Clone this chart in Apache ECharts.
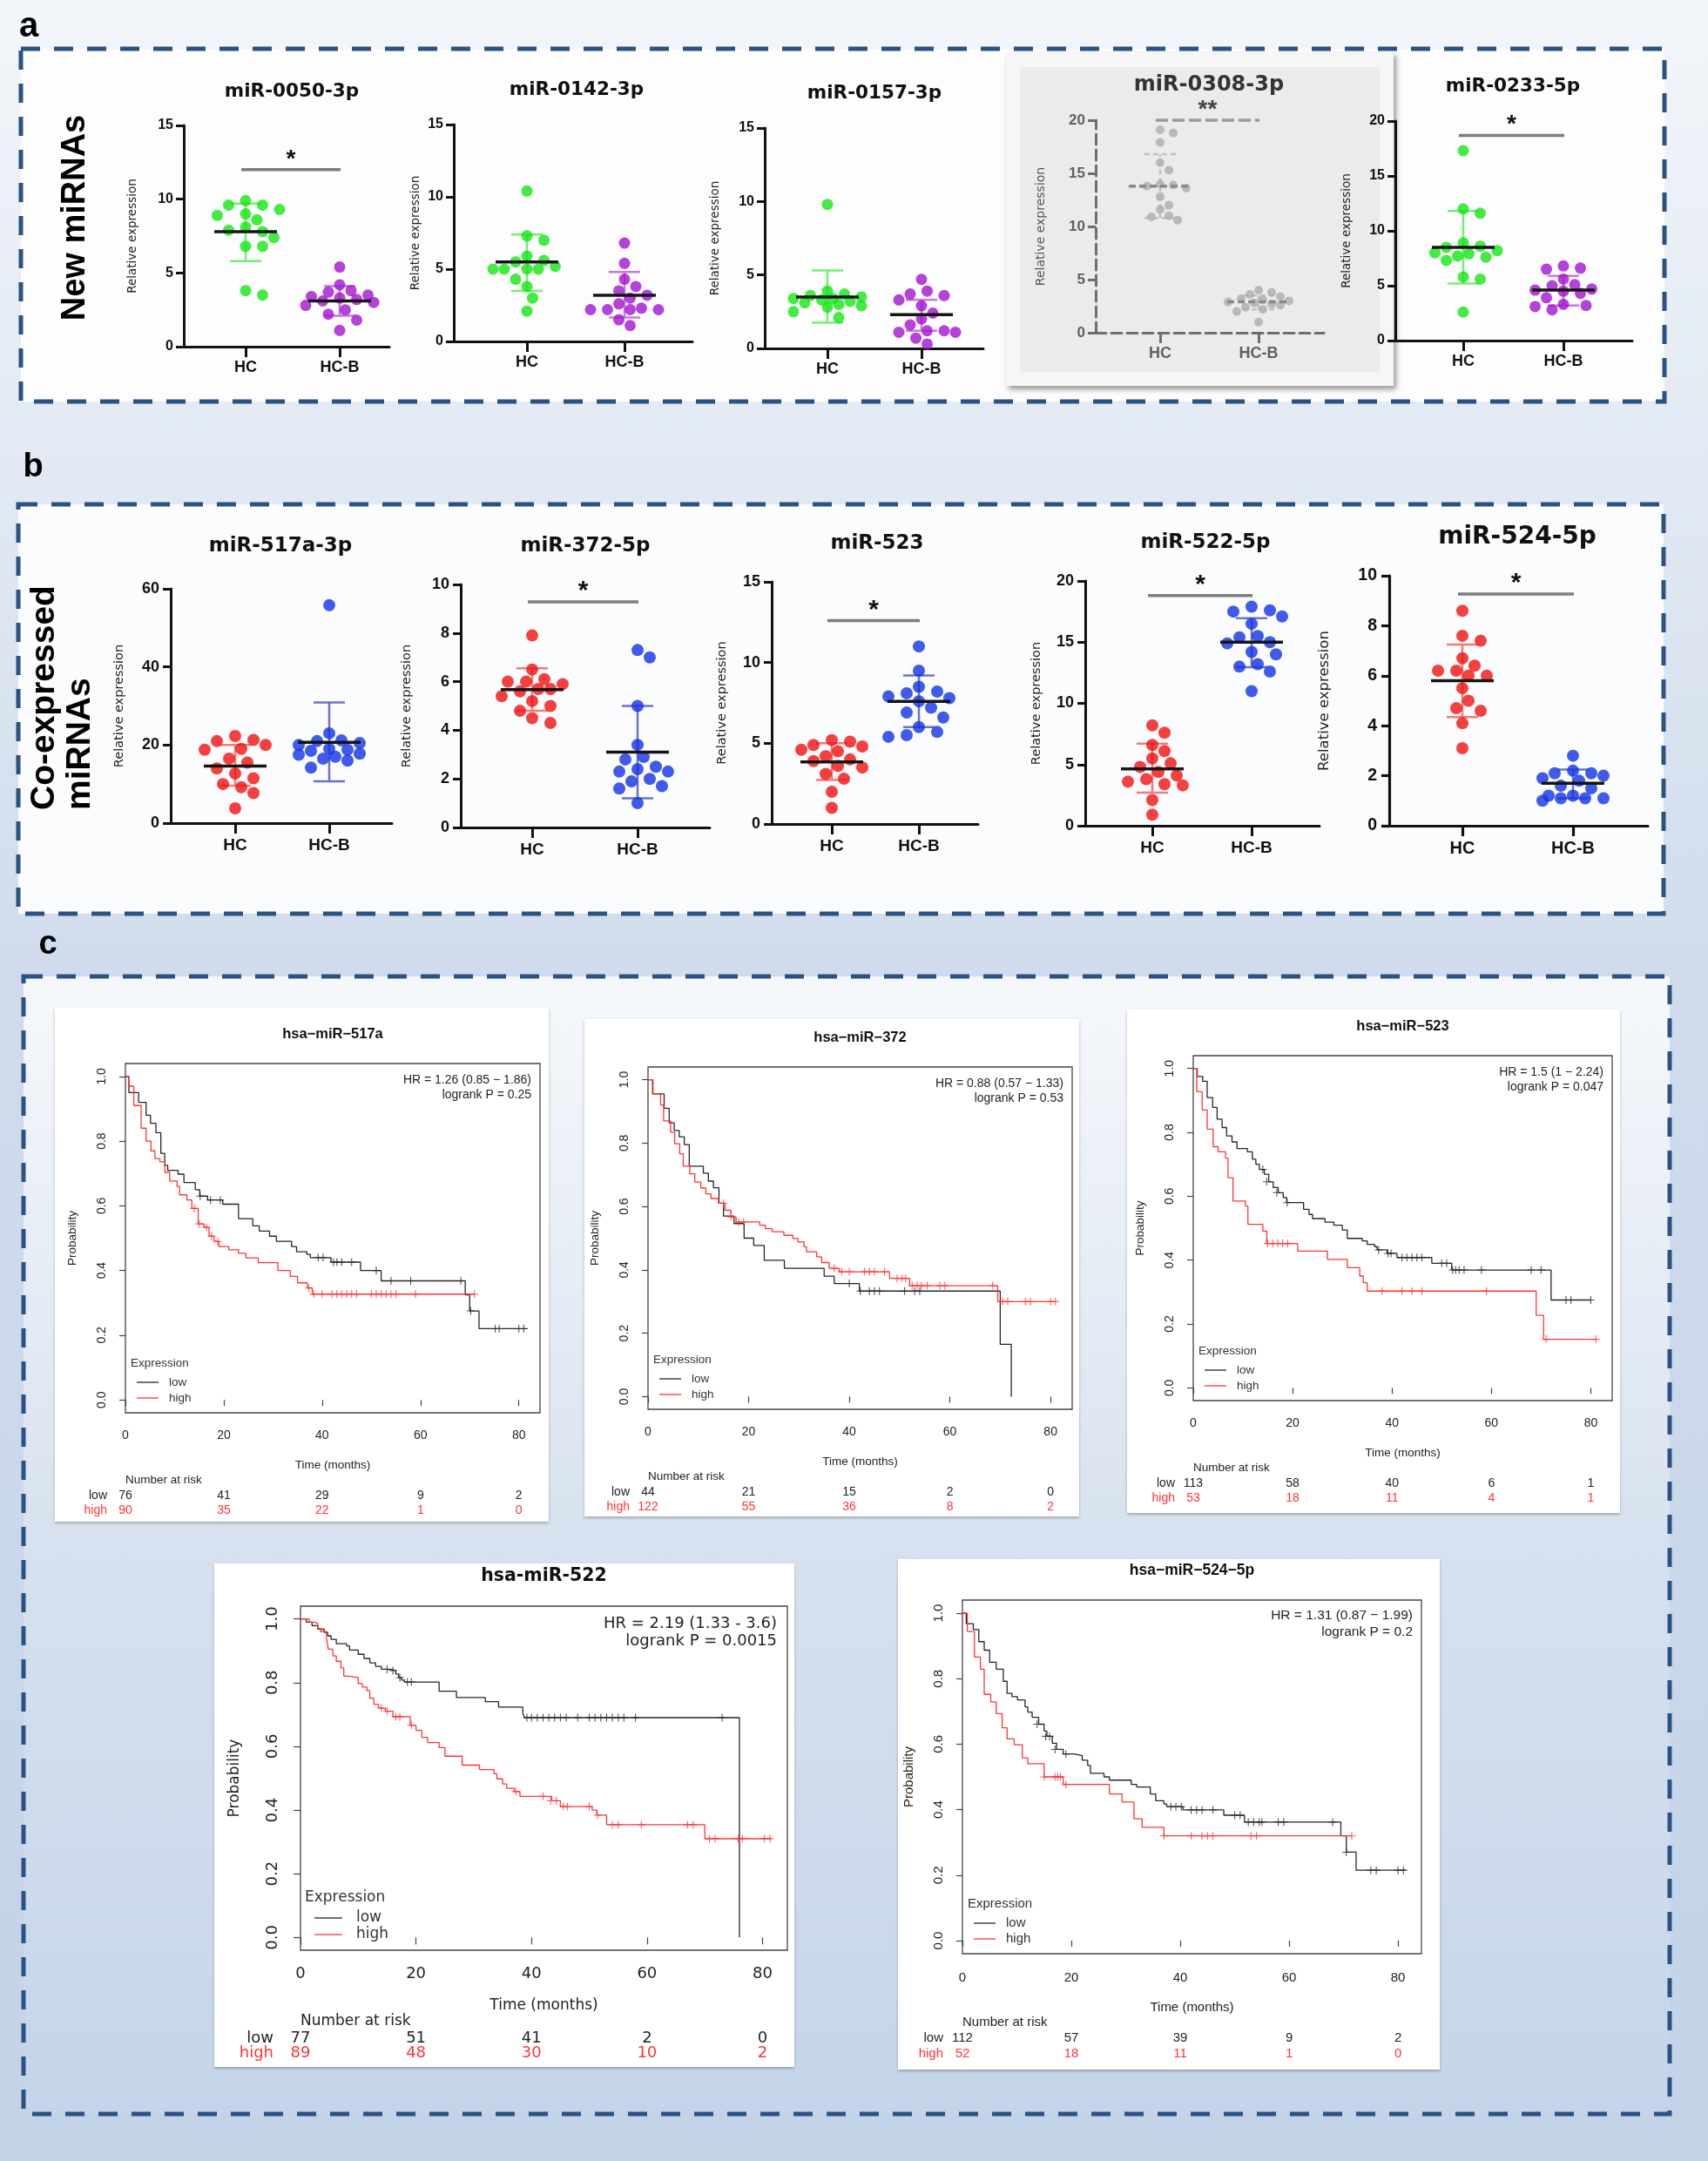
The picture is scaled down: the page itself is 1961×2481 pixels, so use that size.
<!DOCTYPE html>
<html><head><meta charset="utf-8">
<script src="https://cdn.jsdelivr.net/npm/echarts@6.0.0/dist/echarts.min.js"></script>
<style>html,body{margin:0;padding:0;background:#fff}#chart{width:1961px;height:2481px}</style>
</head><body><div id="chart"></div>
<script>
// ================= DATA =================
const GROUPS = ['HC', 'HC-B'];

// ---- panel a : new miRNAs ----
const mir0050_HC   = [9.9, 9.6, 9.6, 9.3, 9.0, 8.9, 8.6, 8.1, 7.9, 7.8, 7.4, 6.8, 6.8, 3.8, 3.5];
const mir0050_HCB  = [5.4, 4.2, 3.8, 3.7, 3.5, 3.4, 3.3, 3.2, 3.1, 3.0, 2.8, 2.5, 2.2, 1.8, 1.1];
const mir0050_mean = [7.8, 3.1];
const mir0050_sd   = [[5.8, 9.7], [2.1, 4.1]];
const mir0050_sig  = [12.0];

const mir0142_HC   = [10.4, 7.3, 7.0, 5.9, 5.6, 5.5, 5.2, 5.0, 5.0, 5.0, 5.0, 4.3, 3.8, 3.0, 2.1];
const mir0142_HCB  = [6.8, 5.4, 4.3, 3.8, 3.5, 3.2, 3.0, 2.6, 2.3, 2.2, 2.2, 2.2, 2.2, 1.5, 1.1];
const mir0142_mean = [5.5, 3.2];
const mir0142_sd   = [[3.5, 7.4], [1.65, 4.8]];
const mir0142_sig  = null;

const mir0157_HC   = [9.8, 3.9, 3.7, 3.6, 3.5, 3.4, 3.4, 3.3, 3.2, 3.1, 3.0, 2.9, 2.8, 2.5, 2.1];
const mir0157_HCB  = [4.7, 3.9, 3.7, 3.6, 3.3, 2.9, 2.4, 2.0, 1.6, 1.2, 1.2, 1.1, 1.1, 0.7, 0.3];
const mir0157_mean = [3.5, 2.3];
const mir0157_sd   = [[1.75, 5.3], [1.2, 3.3]];
const mir0157_sig  = null;

const mir0308_HC   = [19.1, 18.8, 17.9, 16.0, 15.3, 14.0, 13.9, 13.8, 13.6, 12.8, 12.0, 11.6, 11.0, 10.9, 10.6];
const mir0308_HCB  = [4.0, 3.8, 3.6, 3.4, 3.2, 3.1, 3.0, 2.9, 2.8, 2.7, 2.6, 2.4, 2.2, 2.0, 1.0];
const mir0308_mean = [13.8, 2.9];
const mir0308_sd   = [[10.8, 16.8], [2.2, 3.5]];
const mir0308_sig  = [20.0];

const mir0233_HC   = [17.3, 12.0, 11.6, 8.9, 8.6, 8.5, 8.2, 8.0, 7.9, 7.7, 7.6, 7.3, 5.8, 5.6, 2.6];
const mir0233_HCB  = [6.8, 6.6, 6.5, 5.6, 5.1, 5.0, 4.7, 4.6, 4.5, 4.3, 3.9, 3.3, 3.2, 3.1, 2.8];
const mir0233_mean = [8.5, 4.6];
const mir0233_sd   = [[5.2, 11.8], [3.2, 5.9]];
const mir0233_sig  = [18.7];

// ---- panel b : co-expressed miRNAs ----
const mir517a_HC   = [22.3, 21.3, 21.0, 20.0, 19.0, 18.8, 16.5, 15.5, 14.0, 12.7, 11.5, 10.0, 9.2, 7.7, 3.8];
const mir517a_HCB  = [55.8, 23.0, 21.2, 21.0, 20.5, 20.0, 19.0, 18.8, 18.5, 17.8, 17.5, 17.0, 16.5, 16.0, 14.2];
const mir517a_mean = [14.6, 20.7];
const mir517a_sd   = [[9.6, 20.0], [10.7, 30.9]];
const mir517a_sig  = null;

const mir372_HC    = [7.9, 6.5, 6.1, 6.0, 6.0, 5.9, 5.7, 5.7, 5.6, 5.4, 5.2, 5.0, 4.8, 4.5, 4.3];
const mir372_HCB   = [7.3, 7.0, 5.0, 3.4, 2.9, 2.8, 2.5, 2.4, 2.3, 2.3, 2.0, 1.9, 1.7, 1.6, 1.0];
const mir372_mean  = [5.67, 3.1];
const mir372_sd    = [[4.8, 6.55], [1.2, 5.0]];
const mir372_sig   = [9.28];

const mir523_HC    = [5.2, 5.1, 4.9, 4.8, 4.6, 4.5, 4.2, 4.0, 3.9, 3.6, 3.5, 3.1, 2.8, 2.0, 1.0];
const mir523_HCB   = [11.0, 9.5, 8.5, 8.2, 8.1, 7.9, 7.8, 7.6, 7.2, 6.9, 6.6, 6.0, 5.7, 5.5, 5.4];
const mir523_mean  = [3.85, 7.6];
const mir523_sd    = [[2.73, 5.0], [6.0, 9.2]];
const mir523_sig   = [12.6];

const mir522_HC    = [8.2, 7.6, 6.6, 6.1, 5.5, 5.1, 4.8, 4.4, 4.1, 3.8, 3.6, 3.4, 3.3, 2.1, 0.9];
const mir522_HCB   = [17.9, 17.6, 17.5, 17.1, 16.5, 15.5, 15.4, 15.0, 14.9, 14.2, 14.0, 13.2, 13.0, 12.6, 11.0];
const mir522_mean  = [4.65, 15.0];
const mir522_sd    = [[2.7, 6.7], [12.95, 16.95]];
const mir522_sig   = [18.8];

const mir524_HC    = [8.6, 7.6, 7.4, 6.7, 6.4, 6.2, 6.2, 6.0, 6.0, 5.5, 5.0, 4.7, 4.6, 4.1, 3.1];
const mir524_HCB   = [2.8, 2.2, 2.1, 2.1, 2.0, 1.9, 1.8, 1.6, 1.5, 1.2, 1.2, 1.1, 1.1, 1.1, 1.0];
const mir524_mean  = [5.8, 1.7];
const mir524_sd    = [[4.35, 7.25], [1.1, 2.25]];
const mir524_sig   = [9.27];

// ---- panel c : Kaplan-Meier curves [months, survival probability] ----
const KM_X_TICKS = [0, 20, 40, 60, 80];
const KM_Y_TICKS = [0, 0.2, 0.4, 0.6, 0.8, 1.0];
const RISK_TIMES = [0, 20, 40, 60, 80];

const km517_low = [[0,1],[0.7,0.95],[2.7,0.92],[4.2,0.88],[5.1,0.855],[6.2,0.826],[7.2,0.762],[8,0.725],[8.6,0.71],[10.7,0.698],[11.9,0.672],[14.2,0.65],[15.1,0.63],[16.7,0.618],[19.8,0.605],[23,0.56],[25.9,0.538],[27.2,0.522],[29.3,0.506],[30.7,0.49],[33.8,0.474],[34.8,0.458],[36.9,0.45],[37.6,0.44],[41.8,0.426],[47.8,0.40],[52,0.368],[69.1,0.325],[70,0.275],[71.9,0.22],[81.7,0.22]];
const km517_lowCens = [[15.2,0.63],[17.3,0.618],[19.3,0.618],[39.2,0.44],[40.2,0.44],[42.3,0.426],[43,0.426],[44,0.426],[46,0.426],[51,0.40],[54,0.368],[58,0.368],[68.2,0.368],[70.2,0.275],[75.2,0.22],[76,0.22],[80,0.22],[81,0.22]];
const km517_high = [[0,1],[0.7,0.97],[1.7,0.91],[3.2,0.84],[4.2,0.80],[5.2,0.77],[6,0.746],[7,0.736],[8,0.704],[9,0.677],[10.5,0.66],[11,0.634],[12.5,0.618],[13.5,0.592],[14.8,0.544],[16,0.533],[17,0.506],[18,0.49],[19,0.474],[21,0.464],[23,0.453],[24.5,0.439],[27,0.424],[31,0.40],[33.5,0.382],[35,0.362],[37,0.346],[38,0.327],[71,0.327]];
const km517_highCens = [[14,0.592],[15,0.544],[16.5,0.533],[17.5,0.506],[18.8,0.49],[37.3,0.346],[38.3,0.327],[40,0.327],[42,0.327],[43,0.327],[44,0.327],[45,0.327],[46,0.327],[47,0.327],[50,0.327],[51,0.327],[52,0.327],[53,0.327],[54,0.327],[55,0.327],[59,0.327],[71,0.327]];
const km517_riskLow = [76, 41, 29, 9, 2];
const km517_riskHigh = [90, 35, 22, 1, 0];
const km517_hr = ['HR = 1.26 (0.85 \u2212 1.86)', 'logrank P = 0.25'];

const km372_low = [[0,1],[0.9,0.955],[3.2,0.91],[4.2,0.864],[5.2,0.84],[6.2,0.82],[7.2,0.795],[8.2,0.727],[11,0.705],[12,0.68],[13,0.659],[14.1,0.61],[15,0.57],[17.1,0.546],[19.1,0.5],[21,0.477],[23.1,0.43],[27.1,0.405],[35,0.38],[37,0.357],[42,0.333],[70,0.165],[72.2,0]];
const km372_lowCens = [[40,0.357],[42.2,0.333],[44,0.333],[45,0.333],[46,0.333],[51,0.333],[53,0.333],[54,0.333]];
const km372_high = [[0,1],[1,0.955],[2.5,0.92],[3.1,0.87],[4.5,0.834],[5.3,0.798],[6.3,0.766],[7,0.727],[8.3,0.703],[9.3,0.677],[10.5,0.658],[11.5,0.64],[12.5,0.625],[14,0.61],[15.3,0.588],[16.5,0.567],[17.5,0.551],[22.2,0.541],[23.3,0.53],[24.7,0.52],[27,0.509],[28.8,0.499],[29.8,0.488],[31,0.473],[31.5,0.457],[33.5,0.441],[34.5,0.423],[36,0.405],[38,0.394],[48,0.373],[52,0.35],[69.5,0.30],[81,0.30]];
const km372_highCens = [[15,0.61],[16.5,0.567],[18,0.551],[19,0.551],[37,0.405],[38.5,0.394],[40,0.394],[43,0.394],[44,0.394],[45,0.394],[47,0.394],[49.5,0.373],[50.5,0.373],[51.2,0.373],[52.5,0.35],[53.5,0.35],[54.3,0.35],[55.5,0.35],[58,0.35],[59,0.35],[68.5,0.35],[70.5,0.30],[71.5,0.30],[75,0.30],[76,0.30],[80,0.30],[81,0.30]];
const km372_riskLow = [44, 21, 15, 2, 0];
const km372_riskHigh = [122, 55, 36, 8, 2];
const km372_hr = ['HR = 0.88 (0.57 \u2212 1.33)', 'logrank P = 0.53'];

const km523_low = [[0,1],[0.8,0.975],[1.9,0.96],[2.8,0.909],[3.9,0.878],[4.8,0.841],[5.8,0.815],[6.7,0.789],[7.8,0.77],[8.8,0.749],[10.9,0.739],[11.9,0.716],[12.6,0.70],[13.3,0.684],[14.3,0.669],[15.2,0.645],[16.1,0.627],[17.1,0.611],[18.1,0.596],[18.8,0.58],[22.2,0.559],[23.3,0.543],[24,0.53],[26.5,0.519],[28.3,0.509],[30,0.494],[31,0.468],[34,0.46],[35,0.449],[36.5,0.442],[37,0.432],[39,0.421],[41,0.408],[48,0.39],[52,0.369],[72,0.275],[80,0.275]];
const km523_lowCens = [[14,0.684],[14.8,0.645],[16.8,0.611],[18.9,0.58],[37.3,0.432],[39.2,0.421],[39.8,0.421],[42,0.408],[43,0.408],[44,0.408],[45,0.408],[46,0.408],[50,0.39],[51,0.39],[52.2,0.369],[52.8,0.369],[53.5,0.369],[54.5,0.369],[58,0.369],[68,0.369],[70,0.369],[75,0.275],[76,0.275],[80,0.275]];
const km523_high = [[0,1],[0.7,0.927],[1.8,0.87],[2.8,0.81],[4,0.755],[5,0.739],[6.5,0.719],[7,0.658],[8,0.585],[10.5,0.569],[11,0.512],[14,0.491],[14.8,0.452],[21,0.428],[27,0.402],[31,0.376],[33.5,0.35],[34.2,0.329],[35,0.303],[69,0.227],[70.5,0.152],[81,0.152]];
const km523_highCens = [[15,0.452],[16,0.452],[17,0.452],[18,0.452],[19,0.452],[38,0.303],[42,0.303],[44,0.303],[46,0.303],[59,0.303],[71,0.152],[81,0.152]];
const km523_riskLow = [113, 58, 40, 6, 1];
const km523_riskHigh = [53, 18, 11, 4, 1];
const km523_hr = ['HR = 1.5 (1 \u2212 2.24)', 'logrank P = 0.047'];

const km522_low = [[0,1],[1,0.99],[2,0.979],[3,0.968],[4.1,0.958],[4.7,0.947],[5.3,0.936],[6.2,0.922],[8,0.915],[8.5,0.902],[10,0.889],[11,0.876],[12,0.862],[13,0.851],[14,0.842],[15.5,0.838],[16.5,0.827],[17,0.816],[17.5,0.808],[18,0.802],[24,0.773],[27,0.753],[32,0.74],[34.3,0.723],[38.5,0.704],[38.8,0.69],[76,0]];
const km522_lowCens = [[15,0.842],[16,0.838],[17.2,0.816],[18.5,0.802],[19.2,0.802],[39.2,0.69],[40,0.69],[41,0.69],[42,0.69],[43,0.69],[44,0.69],[45,0.69],[46,0.69],[48,0.69],[50,0.69],[51,0.69],[52,0.69],[53,0.69],[54,0.69],[55,0.69],[56,0.69],[58,0.69],[73,0.69]];
const km522_high = [[0,1],[1.5,0.99],[2.5,0.985],[3,0.97],[3.5,0.96],[4.5,0.94],[4.8,0.905],[5.6,0.884],[6.2,0.867],[7,0.846],[7.5,0.82],[8.3,0.816],[10,0.797],[10.7,0.786],[11.5,0.775],[12,0.751],[12.7,0.732],[13.5,0.72],[14.7,0.71],[16,0.693],[19,0.666],[20,0.65],[21,0.628],[22,0.612],[24,0.596],[25,0.569],[28,0.541],[31,0.527],[33.5,0.514],[34,0.498],[35,0.482],[35.7,0.468],[37,0.458],[38,0.443],[43.5,0.429],[45,0.411],[50.5,0.40],[51.3,0.384],[53,0.354],[70,0.31],[81.5,0.31]];
const km522_highCens = [[14,0.72],[15,0.71],[16.5,0.693],[17.2,0.693],[19.2,0.666],[37.3,0.458],[42,0.443],[43.3,0.429],[44.3,0.429],[45.5,0.411],[46.2,0.411],[50,0.411],[51.4,0.384],[54,0.354],[55,0.354],[59,0.354],[67,0.354],[68,0.354],[70.8,0.31],[71.8,0.31],[75.8,0.31],[76.5,0.31],[80.3,0.31],[81.3,0.31]];
const km522_riskLow = [77, 51, 41, 2, 0];
const km522_riskHigh = [89, 48, 30, 10, 2];
const km522_hr = ['HR = 2.19 (1.33 - 3.6)', 'logrank P = 0.0015'];

const km524_low = [[0,1],[0.7,0.968],[2,0.95],[3,0.913],[4,0.887],[5,0.85],[6.2,0.829],[7.5,0.792],[8.2,0.755],[9.1,0.745],[10.1,0.735],[11.5,0.714],[12,0.698],[12.8,0.682],[14,0.661],[15,0.64],[15.5,0.624],[16.5,0.603],[17.3,0.584],[18.5,0.57],[20.5,0.565],[22,0.551],[23,0.535],[23.5,0.511],[26,0.50],[27,0.49],[31,0.477],[32,0.469],[34.5,0.448],[35.5,0.427],[37,0.417],[37.5,0.409],[40.5,0.399],[48,0.383],[51.8,0.362],[69.5,0.32],[70.5,0.27],[72.3,0.215],[81.4,0.215]];
const km524_lowCens = [[13.7,0.661],[15.3,0.624],[16,0.624],[17,0.584],[19,0.57],[38.3,0.409],[39.2,0.409],[40.2,0.409],[42,0.399],[43,0.399],[44,0.399],[46,0.399],[50,0.383],[51,0.383],[52.5,0.362],[53.5,0.362],[54.5,0.362],[55,0.362],[58,0.362],[59,0.362],[68,0.362],[70.5,0.27],[75,0.215],[76,0.215],[80,0.215],[81,0.215]];
const km524_high = [[0,1],[0.9,0.944],[2.2,0.866],[3.3,0.829],[4,0.752],[5.2,0.729],[6.2,0.693],[7.3,0.65],[8.2,0.616],[9.5,0.598],[11,0.558],[12,0.54],[15,0.50],[18.5,0.477],[27,0.448],[29.3,0.423],[31.5,0.372],[33,0.346],[37,0.32],[71.5,0.32]];
const km524_highCens = [[15,0.50],[17,0.50],[17.5,0.50],[18,0.50],[19,0.477],[37,0.32],[42,0.32],[44,0.32],[45,0.32],[46,0.32],[53,0.32],[54,0.32],[71.5,0.32]];
const km524_riskLow = [112, 57, 39, 9, 2];
const km524_riskHigh = [52, 18, 11, 1, 0];
const km524_hr = ['HR = 1.31 (0.87 \u2212 1.99)', 'logrank P = 0.2'];

// ================= STYLES / LAYOUT =================
const PAL = {
  green:  {dot: '#14e614', bar: '#74ee74'},
  purple: {dot: '#a114cf', bar: '#c57ad8'},
  red:    {dot: '#f41010', bar: '#f27a7a'},
  blue:   {dot: '#1232e6', bar: '#6a74c6'},
  grey:   {dot: '#adadad', bar: '#c2c2c2'}
};
const DJ = '"DejaVu Sans", sans-serif';
const LS = '"Liberation Sans", Arial, sans-serif';
const STY = {
  a:  {title: 21.5, tick: 16, xl: 18, yn: 13.5, dot: 13, axis: '#111', lab: '#111', tcol: '#111', lw: 3, dash: false, star: 28, xm: 15, ym: 12},
  g:  {title: 24,   tick: 17, xl: 18, yn: 14,   dot: 10, axis: '#6e6e6e', lab: '#606060', tcol: '#333', lw: 3, dash: true, star: 28, xm: 15, ym: 12},
  b:  {title: 23,   tick: 18, xl: 19, yn: 14.5, dot: 14, axis: '#111', lab: '#111', tcol: '#111', lw: 3, dash: false, star: 30, xm: 16, ym: 13},
  b5: {title: 28,   tick: 19.5, xl: 20, yn: 16.5, dot: 14, axis: '#111', lab: '#111', tcol: '#111', lw: 3.2, dash: false, star: 30, xm: 16, ym: 14}
};

const scatterPlots = [
  {title: 'miR-0050-3p', vals: [mir0050_HC, mir0050_HCB], mean: mir0050_mean, sd: mir0050_sd, sig: mir0050_sig, star: '*', yMax: 15, yStep: 5, pal: ['green', 'purple'], sty: 'a',
   L: {ax: 211, right: 447, top: 144, zero: 398, hc: 282, hcb: 390, tx: 335, ty: 105, nx: 152}},
  {title: 'miR-0142-3p', vals: [mir0142_HC, mir0142_HCB], mean: mir0142_mean, sd: mir0142_sd, sig: mir0142_sig, star: '', yMax: 15, yStep: 5, pal: ['green', 'purple'], sty: 'a',
   L: {ax: 521, right: 795, top: 143, zero: 392, hc: 605, hcb: 717, tx: 662, ty: 103, nx: 477}},
  {title: 'miR-0157-3p', vals: [mir0157_HC, mir0157_HCB], mean: mir0157_mean, sd: mir0157_sd, sig: mir0157_sig, star: '', yMax: 15, yStep: 5, pal: ['green', 'purple'], sty: 'a',
   L: {ax: 878, right: 1129, top: 147, zero: 400, hc: 950, hcb: 1058, tx: 1004, ty: 107, nx: 821}},
  {title: 'miR-0308-3p', vals: [mir0308_HC, mir0308_HCB], mean: mir0308_mean, sd: mir0308_sd, sig: mir0308_sig, star: '**', yMax: 20, yStep: 5, pal: ['grey', 'grey'], sty: 'g',
   L: {ax: 1258, right: 1520, top: 138, zero: 382, hc: 1332, hcb: 1445, tx: 1388, ty: 98, nx: 1195}},
  {title: 'miR-0233-5p', vals: [mir0233_HC, mir0233_HCB], mean: mir0233_mean, sd: mir0233_sd, sig: mir0233_sig, star: '*', yMax: 20, yStep: 5, pal: ['green', 'purple'], sty: 'a',
   L: {ax: 1602, right: 1874, top: 139, zero: 391, hc: 1680, hcb: 1795, tx: 1737, ty: 99, nx: 1546}},
  {title: 'miR-517a-3p', vals: [mir517a_HC, mir517a_HCB], mean: mir517a_mean, sd: mir517a_sd, sig: mir517a_sig, star: '', yMax: 60, yStep: 20, pal: ['red', 'blue'], sty: 'b',
   L: {ax: 196, right: 450, top: 676, zero: 945, hc: 270, hcb: 378, tx: 322, ty: 627, nx: 137}},
  {title: 'miR-372-5p', vals: [mir372_HC, mir372_HCB], mean: mir372_mean, sd: mir372_sd, sig: mir372_sig, star: '*', yMax: 10, yStep: 2, pal: ['red', 'blue'], sty: 'b',
   L: {ax: 529, right: 815, top: 671, zero: 950, hc: 611, hcb: 732, tx: 672, ty: 627, nx: 467}},
  {title: 'miR-523', vals: [mir523_HC, mir523_HCB], mean: mir523_mean, sd: mir523_sd, sig: mir523_sig, star: '*', yMax: 15, yStep: 5, pal: ['red', 'blue'], sty: 'b',
   L: {ax: 886, right: 1123, top: 668, zero: 946, hc: 955, hcb: 1055, tx: 1007, ty: 624, nx: 829}},
  {title: 'miR-522-5p', vals: [mir522_HC, mir522_HCB], mean: mir522_mean, sd: mir522_sd, sig: mir522_sig, star: '*', yMax: 20, yStep: 5, pal: ['red', 'blue'], sty: 'b',
   L: {ax: 1246, right: 1515, top: 667, zero: 948, hc: 1323, hcb: 1437, tx: 1384, ty: 623, nx: 1190}},
  {title: 'miR-524-5p', vals: [mir524_HC, mir524_HCB], mean: mir524_mean, sd: mir524_sd, sig: mir524_sig, star: '*', yMax: 10, yStep: 2, pal: ['red', 'blue'], sty: 'b5',
   L: {ax: 1595, right: 1892, top: 661, zero: 948, hc: 1679, hcb: 1806, tx: 1742, ty: 617, nx: 1521}}
];

const O_STD = {hrDx: 10, hr1: 19, hr2: 36, xlabC: 26, time: 60, nar: 77, row1: 95, row2: 112, rowDx: 21, ylab: 27, prob: 61, expr: 57, leg1: 35, leg2: 17, legX0: 13, legX1: 38, legTx: 50, exprX: 6, tick: 7};
const O_522 = {hrDx: 12, hr1: 20, hr2: 40, xlabC: 27, time: 64, nar: 82, row1: 101, row2: 118, rowDx: 31, ylab: 32, prob: 75, expr: 60, leg1: 37, leg2: 18, legX0: 16, legX1: 48, legTx: 64, exprX: 5, tick: 8};
const O_524 = Object.assign({}, O_STD, {hr1: 18, hr2: 37, xlabC: 28, time: 62, nar: 79, row1: 97, row2: 115, rowDx: 22});
const F_STD = {ff: LS, title: 16.5, tick: 14, text: 13.5, hr: 14, risk: 14};
const F_522 = {ff: DJ, title: 20.5, tick: 18, text: 17, hr: 18, risk: 18};
const F_524 = {ff: LS, title: 17.5, tick: 15, text: 15, hr: 15.5, risk: 15};

const kmPlots = [
  {title: 'hsa\u2212miR\u2212517a', low: km517_low, lowCens: km517_lowCens, high: km517_high, highCens: km517_highCens, rl: km517_riskLow, rh: km517_riskHigh, hr: km517_hr,
   box: [63, 1157, 567, 590], grid: [144, 1221, 476, 401], O: O_STD, F: F_STD},
  {title: 'hsa\u2212miR\u2212372', low: km372_low, lowCens: km372_lowCens, high: km372_high, highCens: km372_highCens, rl: km372_riskLow, rh: km372_riskHigh, hr: km372_hr,
   box: [671, 1170, 568, 571], grid: [744, 1225, 487, 393], O: O_STD, F: F_STD},
  {title: 'hsa\u2212miR\u2212523', low: km523_low, lowCens: km523_lowCens, high: km523_high, highCens: km523_highCens, rl: km523_riskLow, rh: km523_riskHigh, hr: km523_hr,
   box: [1294, 1159, 566, 578], grid: [1370, 1212, 481, 396], O: O_STD, F: F_STD},
  {title: 'hsa-miR-522', low: km522_low, lowCens: km522_lowCens, high: km522_high, highCens: km522_highCens, rl: km522_riskLow, rh: km522_riskHigh, hr: km522_hr,
   box: [246, 1795, 666, 578], grid: [345, 1844, 559, 395], O: O_522, F: F_522},
  {title: 'hsa\u2212miR\u2212524\u22125p', low: km524_low, lowCens: km524_lowCens, high: km524_high, highCens: km524_highCens, rl: km524_riskLow, rh: km524_riskHigh, hr: km524_hr,
   box: [1031, 1790, 622, 586], grid: [1105, 1837, 527, 406], O: O_524, F: F_524}
];

// ================= BUILD =================
const LG = echarts.graphic.LinearGradient;
function txt(text, x, y, font, fill, align, valign, rot, z) {
  return {type: 'text', x: x, y: y, rotation: rot || 0, z: z || 50, silent: true,
    style: {text: text, font: font, fill: fill, align: align || 'center', verticalAlign: valign || 'middle',
            textAlign: align || 'center', textVerticalAlign: valign || 'middle'}};
}
// beeswarm-style horizontal spreading of dots (layout only), capped width
function swarm(vals, pxPerY, d) {
  const order = vals.map((v, i) => i).sort((a, b) => vals[b] - vals[a]);
  const placed = [], off = new Array(vals.length).fill(0);
  const minD = d * 1.1, step = d * 0.5, cap = 40;
  const cands = [0];
  for (let k = 1; k * step <= cap; k++) { cands.push(k * step, -k * step); }
  for (const i of order) {
    const py = vals[i] * pxPerY;
    let best = 0, bestD = -1, chosen = null;
    for (const c of cands) {
      const md = placed.reduce((m, p) => Math.min(m, Math.hypot(p.x - c, p.y - py)), Infinity);
      if (md >= minD) { chosen = c; break; }
      if (md > bestD) { bestD = md; best = c; }
    }
    if (chosen === null) chosen = best;
    placed.push({x: chosen, y: py}); off[i] = chosen;
  }
  return off;
}

const grids = [], xAxes = [], yAxes = [], series = [];
const bg = [];
// page background
bg.push({type: 'rect', z: -100, silent: true, shape: {x: 0, y: 0, width: 1961, height: 2481},
  style: {fill: new LG(0, 0, 0, 1, [{offset: 0, color: '#f3f6fa'}, {offset: 0.2, color: '#e3eaf3'}, {offset: 0.45, color: '#d0dcec'}, {offset: 1, color: '#c2d3e8'}])}});
const DASH = {stroke: '#2b5283', lineWidth: 5, lineDash: [22, 16]};
bg.push({type: 'rect', z: -90, silent: true, shape: {x: 24, y: 56, width: 1887, height: 405}, style: Object.assign({fill: '#fdfdfe'}, DASH)});
bg.push({type: 'rect', z: -90, silent: true, shape: {x: 21, y: 579, width: 1889, height: 470}, style: Object.assign({fill: '#fbfcfe'}, DASH)});
bg.push({type: 'rect', z: -90, silent: true, shape: {x: 27, y: 1121, width: 1890, height: 1306},
  style: Object.assign({fill: new LG(0, 0, 0, 1, [{offset: 0, color: 'rgba(255,255,255,0.8)'}, {offset: 0.5, color: 'rgba(255,255,255,0.25)'}, {offset: 1, color: 'rgba(255,255,255,0.03)'}])}, DASH)});
// grey framed panel for miR-0308-3p
bg.push({type: 'rect', z: -80, silent: true, shape: {x: 1155, y: 60, width: 445, height: 383},
  style: {fill: '#f6f6f6', shadowBlur: 6, shadowOffsetX: 3, shadowOffsetY: 4, shadowColor: 'rgba(0,0,0,0.4)'}});
bg.push({type: 'rect', z: -79, silent: true, shape: {x: 1171, y: 77, width: 413, height: 350}, style: {fill: '#ebebeb'}});
// KM white boxes
kmPlots.forEach(k => bg.push({type: 'rect', z: -70, silent: true, shape: {x: k.box[0], y: k.box[1], width: k.box[2], height: k.box[3]},
  style: {fill: '#ffffff', shadowBlur: 3, shadowOffsetY: 2, shadowColor: 'rgba(0,0,0,0.25)'}}));

// panel labels and side titles
bg.push(txt('a', 33, 31, 'bold 40px ' + LS, '#000'));
bg.push(txt('b', 38, 537, 'bold 38px ' + LS, '#000'));
bg.push(txt('c', 55, 1085, 'bold 38px ' + LS, '#000'));
bg.push(txt('New miRNAs', 87, 250, 'bold 38px ' + LS, '#000', 'center', 'middle', Math.PI / 2));
bg.push(txt('Co-expressed', 51, 930, 'bold 39px ' + LS, '#000', 'left', 'middle', Math.PI / 2));
bg.push(txt('miRNAs', 92, 930, 'bold 39px ' + LS, '#000', 'left', 'middle', Math.PI / 2));

// -------- scatter (dot) plots --------
scatterPlots.forEach((p, i) => {
  const S = STY[p.sty], L = p.L, u = L.hcb - L.hc;
  const lineType = S.dash ? 'dashed' : 'solid';
  grids.push({left: L.ax, top: L.top, width: L.right - L.ax, height: L.zero - L.top});
  xAxes.push({gridIndex: i, type: 'value', min: -(L.hc - L.ax) / u, max: 1 + (L.right - L.hcb) / u,
    axisLine: {show: true, onZero: false, lineStyle: {color: S.axis, width: S.lw, type: lineType}},
    axisTick: {show: true, customValues: [0, 1], length: 12, lineStyle: {color: S.axis, width: S.lw}},
    axisLabel: {show: true, customValues: [0, 1], formatter: v => GROUPS[Math.round(v)], fontSize: S.xl, fontWeight: 'bold', fontFamily: LS, color: S.lab, margin: S.xm},
    splitLine: {show: false}});
  yAxes.push({gridIndex: i, type: 'value', min: 0, max: p.yMax, interval: p.yStep,
    axisLine: {show: true, onZero: false, lineStyle: {color: S.axis, width: S.lw, type: lineType}},
    axisTick: {show: true, length: 9, lineStyle: {color: S.axis, width: S.lw}},
    axisLabel: {fontSize: S.tick, fontWeight: 'bold', fontFamily: LS, color: S.lab, margin: S.ym},
    splitLine: {show: false}});
  const pxY = (L.zero - L.top) / p.yMax;
  const data = [];
  p.vals.forEach((arr, g) => {
    const off = swarm(arr, pxY, S.dot);
    arr.forEach((v, k) => data.push({value: [g + off[k] / u, v], itemStyle: {color: PAL[p.pal[g]].dot}}));
  });
  const stats = [0, 1].map(g => [g, p.mean[g], p.sd[g][0], p.sd[g][1]]);
  // SD error bars (behind dots)
  series.push({type: 'custom', xAxisIndex: i, yAxisIndex: i, z: 2, silent: true, data: stats,
    renderItem: (params, api) => {
      const g = api.value(0), lo = api.coord([g, api.value(2)]), hi = api.coord([g, api.value(3)]);
      const st = {stroke: PAL[p.pal[g]].bar, lineWidth: 2.5, lineDash: S.dash ? [6, 4] : null};
      return {type: 'group', children: [
        {type: 'line', shape: {x1: lo[0], y1: lo[1], x2: hi[0], y2: hi[1]}, style: st},
        {type: 'line', shape: {x1: lo[0] - 18, y1: lo[1], x2: lo[0] + 18, y2: lo[1]}, style: st},
        {type: 'line', shape: {x1: hi[0] - 18, y1: hi[1], x2: hi[0] + 18, y2: hi[1]}, style: st}]};
    }});
  series.push({type: 'scatter', xAxisIndex: i, yAxisIndex: i, z: 3, silent: true, symbolSize: S.dot, data: data});
  // mean line (on top)
  series.push({type: 'custom', xAxisIndex: i, yAxisIndex: i, z: 4, silent: true, data: stats,
    renderItem: (params, api) => {
      const g = api.value(0), m = api.coord([g, api.value(1)]);
      return {type: 'line', shape: {x1: m[0] - 36, y1: m[1], x2: m[0] + 36, y2: m[1]},
        style: {stroke: S.dash ? '#8a8a8a' : '#151515', lineWidth: 3.5, lineDash: S.dash ? [8, 4] : null}};
    }});
  if (p.sig) {
    series.push({type: 'custom', xAxisIndex: i, yAxisIndex: i, z: 4, silent: true, data: [[0, p.sig[0]]],
      renderItem: (params, api) => {
        const a = api.coord([0, api.value(1)]), b = api.coord([1, api.value(1)]);
        return {type: 'group', children: [
          {type: 'line', shape: {x1: a[0] - 5, y1: a[1], x2: b[0] + 1, y2: b[1]},
           style: {stroke: S.dash ? '#9a9a9a' : '#7d7d7d', lineWidth: 3.5, lineDash: S.dash ? [14, 5] : null}},
          {type: 'text', x: (a[0] + b[0]) / 2 - 2, y: a[1] - 12,
           style: {text: p.star, font: 'bold ' + S.star + 'px ' + LS, fill: S.dash ? '#444' : '#111', align: 'center', verticalAlign: 'middle', textAlign: 'center', textVerticalAlign: 'middle'}}]};
      }});
  }
  bg.push(txt(p.title, L.tx, L.ty, 'bold ' + S.title + 'px ' + DJ, S.tcol));
  bg.push(txt('Relative expression', L.nx, (L.top + L.zero) / 2, S.yn + 'px ' + DJ, S.dash ? '#555' : '#222', 'center', 'middle', Math.PI / 2));
});

// -------- Kaplan-Meier plots --------
const KM_BLACK = '#262626', KM_RED = '#ff3434';
const PLUS = 'path://M4.4,0H5.6V4.4H10V5.6H5.6V10H4.4V5.6H0V4.4H4.4Z';
const kmStart = scatterPlots.length;
kmPlots.forEach((k, j) => {
  const gi = kmStart + j;
  const [l, t, w, h] = k.grid;
  grids.push({left: l, top: t, width: w, height: h, show: true, borderColor: '#444', borderWidth: 1.3, backgroundColor: 'transparent'});
  xAxes.push({gridIndex: gi, type: 'value', min: 0, max: 84.3, splitLine: {show: false}, axisLine: {show: false},
    axisTick: {show: true, customValues: KM_X_TICKS, length: k.O.tick, lineStyle: {color: '#444', width: 1.2}},
    axisLabel: {show: true, customValues: KM_X_TICKS, fontSize: k.F.tick, fontFamily: k.F.ff, color: '#222', margin: k.O.xlabC - k.F.tick / 2}});
  yAxes.push({gridIndex: gi, type: 'value', min: -0.04, max: 1.04, splitLine: {show: false}, axisLine: {show: false, onZero: false},
    axisTick: {show: true, customValues: KM_Y_TICKS, length: k.O.tick, lineStyle: {color: '#444', width: 1.2}},
    axisLabel: {show: false}});
  const common = {xAxisIndex: gi, yAxisIndex: gi, silent: true, symbol: 'none', step: 'end'};
  series.push(Object.assign({type: 'line', data: k.low, lineStyle: {color: KM_BLACK, width: 1.3}, z: 3}, common));
  series.push(Object.assign({type: 'line', data: k.high, lineStyle: {color: KM_RED, width: 1.3}, z: 4}, common));
  series.push({type: 'scatter', xAxisIndex: gi, yAxisIndex: gi, silent: true, symbol: PLUS, symbolSize: 9, data: k.lowCens, itemStyle: {color: KM_BLACK}, z: 5});
  series.push({type: 'scatter', xAxisIndex: gi, yAxisIndex: gi, silent: true, symbol: PLUS, symbolSize: 9, data: k.highCens, itemStyle: {color: KM_RED}, z: 5});
});

const chart = echarts.init(document.getElementById('chart'), null, {width: 1961, height: 2481});
chart.setOption({animation: false, grid: grids, xAxis: xAxes, yAxis: yAxes, series: series});

// KM text overlays placed with the library's scales
kmPlots.forEach((k, j) => {
  const gi = kmStart + j, O = k.O, F = k.F;
  const P = (x, y) => chart.convertToPixel({gridIndex: gi}, [x, y]);
  const [l, t, w, h] = k.grid, b = t + h, r = l + w;
  const f = (sz, bold) => (bold ? 'bold ' : '') + sz + 'px ' + F.ff;
  bg.push(txt(k.title, l + w / 2, t - 34, f(F.title, true), '#111'));
  bg.push(txt(k.hr[0], r - O.hrDx, t + O.hr1, f(F.hr), '#222', 'right'));
  bg.push(txt(k.hr[1], r - O.hrDx, t + O.hr2, f(F.hr), '#222', 'right'));
  KM_Y_TICKS.forEach(v => bg.push(txt(v.toFixed(1), l - O.ylab, P(0, v)[1], f(F.tick), '#222', 'center', 'middle', Math.PI / 2)));
  bg.push(txt('Probability', l - O.prob, t + h / 2, f(F.text), '#222', 'center', 'middle', Math.PI / 2));
  bg.push(txt('Time (months)', l + w / 2, b + O.time, f(F.text), '#222'));
  bg.push(txt('Expression', l + O.exprX, b - O.expr, f(F.text), '#333', 'left'));
  bg.push({type: 'line', z: 50, silent: true, shape: {x1: l + O.legX0, y1: b - O.leg1, x2: l + O.legX1, y2: b - O.leg1}, style: {stroke: KM_BLACK, lineWidth: 1.3}});
  bg.push({type: 'line', z: 50, silent: true, shape: {x1: l + O.legX0, y1: b - O.leg2, x2: l + O.legX1, y2: b - O.leg2}, style: {stroke: KM_RED, lineWidth: 1.3}});
  bg.push(txt('low', l + O.legTx, b - O.leg1, f(F.text), '#333', 'left'));
  bg.push(txt('high', l + O.legTx, b - O.leg2, f(F.text), '#333', 'left'));
  bg.push(txt('Number at risk', l, b + O.nar, f(F.text), '#222', 'left'));
  bg.push(txt('low', l - O.rowDx, b + O.row1, f(F.risk), '#222', 'right'));
  bg.push(txt('high', l - O.rowDx, b + O.row2, f(F.risk), KM_RED, 'right'));
  RISK_TIMES.forEach((tm, q) => {
    const x = P(tm, 0)[0];
    bg.push(txt(String(k.rl[q]), x, b + O.row1, f(F.risk), '#222'));
    bg.push(txt(String(k.rh[q]), x, b + O.row2, f(F.risk), KM_RED));
  });
});
chart.setOption({graphic: {elements: bg}});
</script></body></html>
